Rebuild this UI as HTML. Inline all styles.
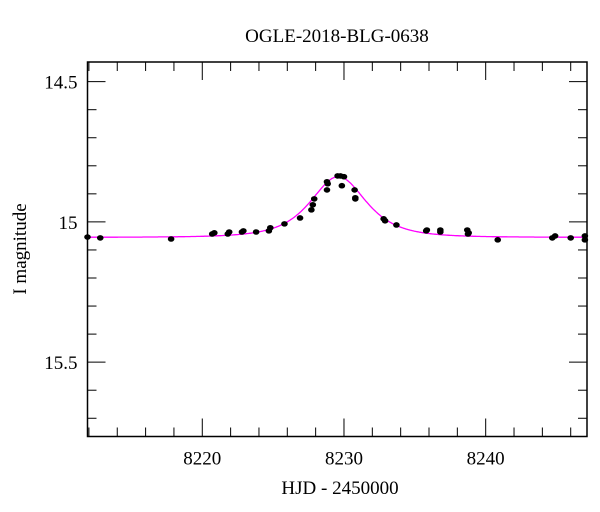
<!DOCTYPE html>
<html><head><meta charset="utf-8"><style>
body{margin:0;background:#fff}
svg{display:block;font-family:"Liberation Serif",serif}
</style></head><body>
<svg id="chart" width="600" height="512">
<text x="337" y="42" text-anchor="middle" font-size="19">OGLE-2018-BLG-0638</text>
<text x="340" y="494" text-anchor="middle" font-size="19">HJD - 2450000</text>
<text transform="translate(26,249) rotate(-90)" text-anchor="middle" font-size="19">I magnitude</text>
<g id="axes"></g>
<g id="marks"></g>
</svg>
<script>
const days=[8211.9,8212.8,8217.8,8220.7,8220.85,8221.8,8221.9,8222.8,8222.9,8223.8,8224.7,8224.8,8225.8,8226.9,8227.7,8227.8,8227.9,8228.8,8228.85,8228.8,8229.55,8229.75,8230.0,8229.85,8230.75,8230.8,8230.8,8232.8,8232.9,8233.7,8235.8,8235.85,8236.8,8236.8,8238.7,8238.75,8238.8,8240.85,8244.7,8244.9,8246.0,8247.0,8247.0];
const mags=[15.054,15.057,15.061,15.043,15.039,15.043,15.036,15.036,15.032,15.036,15.032,15.021,15.007,14.986,14.957,14.939,14.918,14.886,14.864,14.857,14.836,14.836,14.839,14.871,14.886,14.914,14.918,14.989,14.996,15.011,15.032,15.029,15.029,15.036,15.029,15.043,15.039,15.064,15.057,15.050,15.057,15.050,15.064];
const model={t0:8229.6,u0:1.22,tE:2.1,base:15.055};
const xTicks=[8220,8230,8240];
const yTicks=[14.5,15,15.5];
const L=87.5,R=587,T=62,B=436.5;
const x0=8211.9,x1=8247.15,y0=14.43,y1=15.765;
const sx=d=>L+(d-x0)/(x1-x0)*(R-L);
const sy=m=>T+(m-y0)/(y1-y0)*(B-T);
const NS="http://www.w3.org/2000/svg";
function mk(tag,attrs,parent){const e=document.createElementNS(NS,tag);for(const k in attrs)e.setAttribute(k,attrs[k]);parent.appendChild(e);return e;}
const ax=document.getElementById('axes'),mg=document.getElementById('marks');
const frame=mk('rect',{x:L,y:T,width:R-L,height:B-T,fill:'none',stroke:'#000','stroke-width':1.5},ax);


for(let d=8212;d<=x1;d+=2){const maj=d%10===0;const len=maj?18:9;const X=sx(d);
 const t1=mk('line',{x1:X,x2:X,y1:B,y2:B-len,stroke:'#000','stroke-width':1},ax);
 
 
 const t2=mk('line',{x1:X,x2:X,y1:T,y2:T+len,stroke:'#000','stroke-width':1},ax);
 
 }
xTicks.forEach(v=>{const t=mk('text',{x:sx(v),y:B+28,'text-anchor':'middle','font-size':19},ax);t.textContent=v;
 
 });
for(let i=0;i<=14;i++){const m=Math.round((14.4+i*0.1)*10)/10;if(m<y0||m>y1)continue;const maj=Math.round(m*10)%5===0;const len=maj?18:9;const Y=sy(m);
 const t1=mk('line',{x1:L,x2:L+len,y1:Y,y2:Y,stroke:'#000','stroke-width':1},ax);
 
 
 const t2=mk('line',{x1:R,x2:R-len,y1:Y,y2:Y,stroke:'#000','stroke-width':1},ax);
 
 }
yTicks.forEach(v=>{const t=mk('text',{x:L-10,y:sy(v)+7,'text-anchor':'end','font-size':19},ax);t.textContent=v;
 
 });
function magAt(t){const tau=(t-model.t0)/model.tE;const u=Math.sqrt(model.u0*model.u0+tau*tau);const A=(u*u+2)/(u*Math.sqrt(u*u+4));return model.base-2.5*Math.log10(A);}
let p='';for(let t=x0;t<=x1;t+=0.05){p+=(p?'L':'M')+sx(t).toFixed(1)+','+sy(magAt(t)).toFixed(1);}
const curve=mk('path',{d:p,fill:'none',stroke:'#ff00ff','stroke-width':1.3},mg);


days.forEach((d,i)=>{const c=mk('ellipse',{cx:sx(d),cy:sy(mags[i]),rx:3.3,ry:2.8,fill:'#000'},mg);
 
 });
</script>
</body></html>
